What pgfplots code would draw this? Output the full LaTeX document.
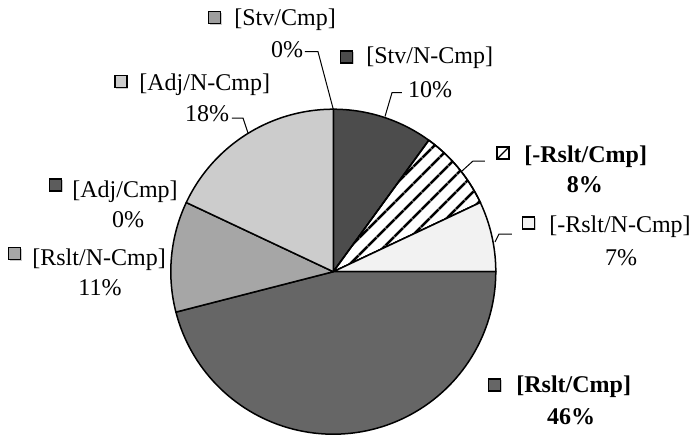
\documentclass[border=0pt]{standalone}
\usepackage{fontspec}
\setmainfont{Liberation Serif}
\usepackage{pgfplots}
\pgfplotsset{compat=1.18}
\usetikzlibrary{patterns.meta,shadows}

% slice fills
\definecolor{gStvN}{gray}{0.30}
\definecolor{gRsltC}{gray}{0.40}
\definecolor{gRsltN}{gray}{0.65}
\definecolor{gAdjN}{gray}{0.80}
\definecolor{gRsltNegN}{gray}{0.95}
\definecolor{gStvC}{gray}{0.62}
\definecolor{gAdjC}{gray}{0.36}

% shares in percent, clockwise from twelve o'clock
\def\pStvN{10}
\def\pRsltNegC{8}
\def\pRsltNegN{7}
\def\pRsltC{46}
\def\pRsltN{11}
\def\pAdjC{0}
\def\pAdjN{18}
\def\pStvC{0}

% centre and radius of the pie
\def\cx{333.3}
\def\cy{164.3}
\def\R{162.5}

% boundary angles
\pgfmathsetmacro\aA{90}
\pgfmathsetmacro\aB{\aA-3.6*\pStvN}
\pgfmathsetmacro\aC{\aB-3.6*\pRsltNegC}
\pgfmathsetmacro\aD{\aC-3.6*\pRsltNegN}
\pgfmathsetmacro\aE{\aD-3.6*\pRsltC}
\pgfmathsetmacro\aF{\aE-3.6*\pRsltN}
\pgfmathsetmacro\aG{\aF-3.6*\pAdjC}
\pgfmathsetmacro\aH{\aG-3.6*\pAdjN}

% one slice: from angle #2 up to angle #1
\newcommand\pieslice[3]{%
  \addplot[#3, draw=black, line width=0.75pt, line join=round,
    domain=#2:#1, samples=90, variable=\t]
    ({\cx+\R*cos(\t)},{\cy+\R*sin(\t)}) -- (axis cs:\cx,\cy) -- cycle;}

\tikzset{
  key/.style={draw=black, line width=0.8pt, minimum size=6pt, inner sep=0pt,
    drop shadow={shadow xshift=0.6pt, shadow yshift=-0.6pt, fill=black!35, opacity=0.6}},
  lab/.style={inner sep=0pt, anchor=west, font=\fontsize{12}{14}\selectfont},
  pct/.style={inner sep=0pt, font=\fontsize{12}{14}\selectfont},
  leader/.style={draw=black, line width=0.5pt},
}

\begin{document}
\begin{tikzpicture}
\begin{axis}[x=0.5pt, y=0.5pt, xmin=0, xmax=693, ymin=0, ymax=436,
  hide axis, clip=false]
\path (axis cs:0,0) rectangle (axis cs:693,436);

\pieslice{\aA}{\aB}{fill=gStvN}
\pieslice{\aB}{\aC}{fill=white, postaction={pattern={Lines[angle=45, distance=6.5pt, line width=1.4pt]}}}
\pieslice{\aC}{\aD}{fill=gRsltNegN}
\pieslice{\aD}{\aE}{fill=gRsltC}
\pieslice{\aE}{\aF}{fill=gRsltN}
\pieslice{\aG}{\aH}{fill=gAdjN}

% leader lines
\draw[leader] (axis cs:305,384.3) -- (axis cs:318,384.3) -- (axis cs:333.3,326.7);
\draw[leader] (axis cs:402,343.3) -- (axis cs:392,343.3) -- (axis cs:385,319.5);
\draw[leader] (axis cs:485,275) -- (axis cs:473,275) -- (axis cs:462,265);
\draw[leader] (axis cs:512,202) -- (axis cs:499,202) -- (axis cs:495,194);
\draw[leader] (axis cs:232,318) -- (axis cs:243,318) -- (axis cs:248,303);

% labels
\node[key, fill=gStvC] at (axis cs:214.5,418.5) {};
\node[lab] at (axis cs:234,416) {[Stv/Cmp]};
\node[pct] at (axis cs:287,386) {0\%};

\node[key, fill=gStvN] at (axis cs:346.5,379) {};
\node[lab] at (axis cs:366,378) {[Stv/N-Cmp]};
\node[pct] at (axis cs:430,346) {10\%};

\node[key, fill=white, path picture={\draw[line width=0.6pt] (path picture bounding box.south west) -- (path picture bounding box.north east);}] at (axis cs:503,283) {};
\node[lab, font=\fontsize{12}{14}\selectfont\bfseries] at (axis cs:524,279.3) {[-Rslt/Cmp]};
\node[pct, font=\fontsize{12}{14}\selectfont\bfseries] at (axis cs:585,251) {8\%};

\node[key, fill=gRsltNegN] at (axis cs:528.5,213) {};
\node[lab] at (axis cs:549,209.3) {[-Rslt/N-Cmp]};
\node[pct] at (axis cs:621,178.3) {7\%};

\node[key, fill=gRsltC] at (axis cs:494.5,51) {};
\node[lab, font=\fontsize{12}{14}\selectfont\bfseries] at (axis cs:516,49.3) {[Rslt/Cmp]};
\node[pct, font=\fontsize{12}{14}\selectfont\bfseries] at (axis cs:571,19.3) {46\%};

\node[key, fill=gRsltN] at (axis cs:14.5,182.5) {};
\node[lab] at (axis cs:32,176) {[Rslt/N-Cmp]};
\node[pct] at (axis cs:100,148) {11\%};

\node[key, fill=gAdjC] at (axis cs:55.5,251) {};
\node[lab] at (axis cs:72,244.3) {[Adj/Cmp]};
\node[pct] at (axis cs:128,216) {0\%};

\node[key, fill=gAdjN] at (axis cs:121,354.5) {};
\node[lab] at (axis cs:139,351) {[Adj/N-Cmp]};
\node[pct] at (axis cs:207,322) {18\%};
\end{axis}
\end{tikzpicture}
\end{document}
